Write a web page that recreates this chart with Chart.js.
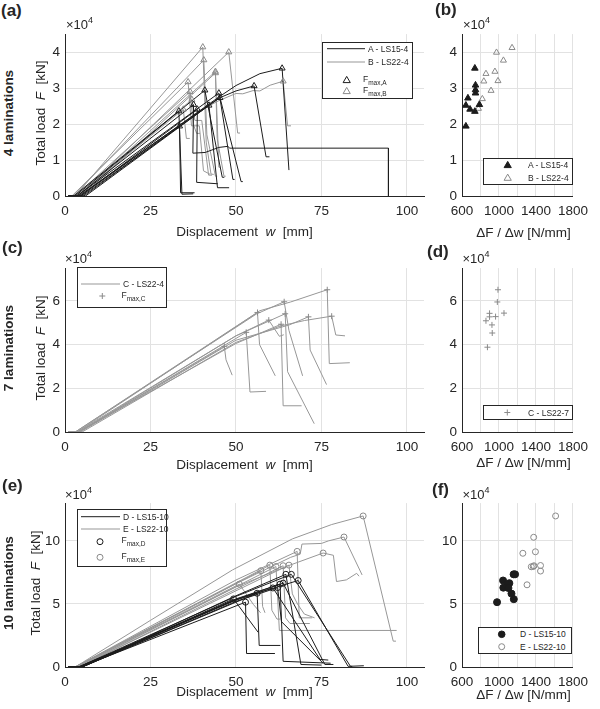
<!DOCTYPE html>
<html><head><meta charset="utf-8">
<script src="https://cdn.jsdelivr.net/npm/chart.js@4.4.1/dist/chart.umd.min.js"></script>
<style>
body{margin:0;background:#fff;}
#wrap{position:relative;width:600px;height:709px;overflow:hidden;background:#fff;font-family:"Liberation Sans",Arial,Helvetica,sans-serif;color:#262626;}
#wrap canvas{position:absolute;z-index:0;}
.t{position:absolute;white-space:nowrap;z-index:3;line-height:1;}
.ttl{font-size:13.5px;transform:translate(-50%,-50%);}
.rot{transform:translate(-50%,-50%) rotate(-90deg);}
.lam{font-size:13.5px;font-weight:bold;}
.pl{font-size:17px;font-weight:bold;transform:translateY(-50%);}
.exp{font-size:13px;transform:translateY(-50%);}
.exp sup{font-size:9px;vertical-align:6px;}
.lg{font-size:8.5px;transform:translateY(-50%);}
.lg sub{font-size:6.5px;vertical-align:-3px;}
svg.leg{position:absolute;z-index:2;overflow:visible;}
</style></head>
<body><div id="wrap"></div>
<script>
// ---------- DATA ----------
// (a) 4 laminations: displacement w [mm] and total load F [kN], one row per test
const a_w_A = [
 [1.5,4.5,45,50,57,63.5,65.5],
 [1,4,45,50,55.3,58.8,59.8],
 [1,3.5,45,51.5,52],
 [1,5,45.3,49.1,49.6],
 [1,3,40.9,46,46.6],
 [1.5,6,42.1,44.6,48],
 [1,3.5,37.6,37.4,41,45,47.6,48.2,94.6,94.6],
 [1,4.5,38.7,38.5,44.7],
 [1,2.5,33.3,34.2,37.5],
 [1,5.5,33.5,33.8,37.9]
];
const a_F_A = [
 [0,0,27500,30700,34000,35500,7200],
 [0,0,27200,29200,30600,10900,10900],
 [0,0,28600,4000,4000],
 [0,0,27300,4600,4600],
 [0,0,29400,5200,5200],
 [0,0,25200,2300,2300],
 [0,0,25400,11900,12100,13500,13800,13300,13300,0],
 [0,0,24100,3800,3400],
 [0,0,23600,500,600],
 [0,0,19400,900,900]
];
const a_w_B = [
 [1,3,40.3,41.3,42.7,43.5],
 [1,4,47.9,50.5,51.2],
 [1,2.5,40.6,41.5,44,44.5],
 [1,4,44,44.5,46.5,47],
 [1,5,44,45,45.5],
 [1,2,36,37,39.3,40.5,42.5],
 [1,4,40,45,50,52,55,57,60,63.8,65.1,66.1],
 [1,3,36.6,37.5,38.5,39.5],
 [1,4,37.1,38,40,42,43],
 [1,3.5,34.6,35.5,36.5]
];
const a_F_B = [
 [0,0,41400,15000,6100,6000],
 [0,0,40000,17500,17500],
 [0,0,37800,17000,5500,5500],
 [0,0,34600,16000,5500,5500],
 [0,0,34200,8000,8000],
 [0,0,31700,19500,19500,7000,6000],
 [0,0,24000,26500,28500,28400,29300,29200,30800,31900,19500,19500],
 [0,0,29000,20000,17400,17400],
 [0,0,26800,21000,21000,5800,5800],
 [0,0,24100,16000,16000]
];
// (b) stiffness dF/dw [N/mm] vs Fmax [kN]
const b_k_A = [739,746,746,746,664,788,642,687,739,642];
const b_F_A = [35500,30800,29500,28600,27200,25400,25200,24100,23500,19400];
const b_k_B = [1141,973,1048,956,859,836,989,914,820,778];
const b_F_B = [41200,39900,37700,34600,34000,31900,32000,29300,27000,24300];
// (c) 7 laminations
const c_w_C = [
 [1,3,57,66,76.7,77.3,83.3],
 [1,3,56,64.1,65.5,69.5],
 [1,3.5,56.3,56.9,61.5],
 [1,4,50,64.4,65.1,72.9],
 [1,4.5,50,60,65.6,71.2,71.7,76.5],
 [1,5,50,63,70,78,79.2,81.9],
 [1,3.5,50,59.6,62.7,64],
 [1,4,50,63.2,63.8,69.2],
 [1,4,53,54.1,58.8],
 [1,4,46.6,47.1,48.9]
];
const c_F_C = [
 [0,0,55500,59500,65100,31300,31700],
 [0,0,54000,59600,46500,25700],
 [0,0,54700,40000,25700],
 [0,0,44000,54100,27600,3800],
 [0,0,42000,46500,49000,52700,37500,21700],
 [0,0,41000,48500,51000,53000,44400,44000],
 [0,0,44000,51200,43800,44500],
 [0,0,40500,49300,12000,12000],
 [0,0,45600,18300,18600],
 [0,0,39200,33000,26000]
];
// (d)
const d_k_C = [989,982,1054,898,898,963,859,924,927,875];
const d_F_C = [65100,59500,54400,54300,52700,52800,50900,49000,45300,38800];
// (e) 10 laminations
const e_w_D = [
 [1,5,49.3,56.5],
 [1,4.5,52.8,53.1,61.4],
 [1,5,56.2,56.8,63],
 [1,4,50,60.8,74.6,77],
 [1,5,50,62.2,63.3,75.5],
 [1,4,50,62.9,63.8,77.7],
 [1,4.5,50,63.8,76,78.5],
 [1,5,50,64.6,69,75],
 [1,4,50,66.2,83.5,84],
 [1,5,50,68.2,82.8,87.4]
];
const e_F_D = [
 [0,0,54000,27500],
 [0,0,51400,10700,10700],
 [0,0,58500,17100,17100],
 [0,0,53000,62700,6000,5500],
 [0,0,52000,63000,36000,3000],
 [0,0,53500,65700,4500,3000],
 [0,0,54000,66500,2000,2000],
 [0,0,56500,73500,2000,1500],
 [0,0,56000,73500,500,500],
 [0,0,53500,68600,500,1000]
];
const e_w_E = [
 [1,3,25,49,66.5,78,87.2,96,96.8],
 [1,3,50,66,68.8,69.3,75,77,81.6,86.9],
 [1,3.5,50,65,75.5,78.5,79.4,82.3,85.3,86],
 [1,3,50,67.9,68.5,72.3],
 [1,3,59.9,60.5,62,63],
 [1,3.5,61.7,62.7,97],
 [1,4,63.8,64.5,65.8,71.6],
 [1,4,65.5,66.5,68,70,73],
 [1,3,57.3,57.8,58.5],
 [1,3,51,55.1,57.2]
];
const e_F_E = [
 [0,0,37000,77000,101600,113000,119800,20500,20500],
 [0,0,66000,87000,89500,97500,98000,100000,103100,73000],
 [0,0,63500,80000,90400,88600,67800,69100,74300,72000],
 [0,0,69000,91700,39000,39000],
 [0,0,80800,45000,38000,38000],
 [0,0,79700,29000,29000],
 [0,0,80300,39000,34500,34500],
 [0,0,80800,58000,50000,42000,39000],
 [0,0,76400,48000,43000],
 [0,0,65700,49600,43000]
];
// (f)
const f_k_D = [1158,1174,1044,1112,1089,1047,1102,1135,1160,979];
const f_F_D = [73500,73500,68600,66500,65700,62900,62600,58200,53800,51400];
const f_k_E = [1612,1375,1394,1258,1449,1378,1349,1370,1449,1303];
const f_F_E = [119800,102900,91400,90200,80500,80300,79500,79700,76100,65200];
// ticks
const wTicks = [0,25,50,75,100];
const kTicks = [600,800,1000,1200,1400,1600,1800];
const kTickLabels = [600,1000,1400,1800];
const yTicks4 = [0,10000,20000,30000,40000];
const yTicks7 = [0,20000,40000,60000];
const yTicks10 = [0,50000,100000];

// ---------- STYLE / LAYOUT ----------
const BLACK='#1c1c1c', GRAY='#979797', GRAYM='#8a8a8a', AX='#262626', GRID='#e2e2e2';
const FONT={family:'"Liberation Sans", Arial, sans-serif', size:13.5};
const wrap=document.getElementById('wrap');
const YW=46, XH=30, PT=8, PR=10;

function curveSets(ws,Fs,color,width){
  return ws.map((w,i)=>({data:w.map((x,j)=>({x:x,y:Fs[i][j]})),showLine:true,borderColor:color,borderWidth:width,
    pointRadius:0,pointHoverRadius:0,fill:false,tension:0}));
}
function peaks(ws,Fs){
  return ws.map((w,i)=>{const F=Fs[i];let k=0;F.forEach((v,j)=>{if(v>F[k])k=j;});return {x:w[k],y:F[k]};});
}
function pairs(xs,ys){return xs.map((x,i)=>({x:x,y:ys[i]}));}
function markerSet(pts,style,r,stroke,fill){
  return {data:pts,showLine:false,pointStyle:style,pointRadius:r,pointHoverRadius:r,borderColor:stroke,backgroundColor:fill,borderWidth:1};
}
function makeChart(rect,xcfg,ycfg,datasets){
  const c=document.createElement('canvas');
  const W=rect.R-rect.L+YW+PR, H=rect.B-rect.T+PT+XH;
  c.width=W;c.height=H;
  c.style.left=(rect.L-YW)+'px';c.style.top=(rect.T-PT)+'px';
  c.style.width=W+'px';c.style.height=H+'px';
  wrap.appendChild(c);
  new Chart(c,{type:'scatter',data:{datasets:datasets},options:{
    responsive:false,animation:false,devicePixelRatio:1,
    layout:{padding:{top:PT,right:PR,left:0,bottom:0}},
    plugins:{legend:{display:false},tooltip:{enabled:false}},
    scales:{
      x:{type:'linear',min:xcfg.min,max:xcfg.max,afterFit:s=>{s.height=XH;},
         afterBuildTicks:s=>{s.ticks=xcfg.ticks.map(v=>({value:v}));},
         ticks:{padding:7,font:FONT,color:AX,maxRotation:0,autoSkip:false,callback:v=>xcfg.labels.includes(v)?String(v):''},
         grid:{color:GRID,drawTicks:false},border:{color:AX,width:1}},
      y:{type:'linear',min:0,max:ycfg.max,afterFit:s=>{s.width=YW;},
         afterBuildTicks:s=>{s.ticks=ycfg.ticks.map(v=>({value:v}));},
         ticks:{padding:5,font:FONT,color:AX,autoSkip:false,callback:v=>String(v/1e4)},
         grid:{color:GRID,drawTicks:false},border:{color:AX,width:1}}
    }}});
}
const xW={min:0,max:105,ticks:wTicks,labels:wTicks};
const xK={min:600,max:1800,ticks:kTicks,labels:kTickLabels};
const TRANSP='rgba(0,0,0,0)';

// (a)
makeChart({L:65,R:424,T:29,B:196},xW,{max:45000,ticks:yTicks4},[
  markerSet(peaks(a_w_A,a_F_A),'triangle',3.5,BLACK,TRANSP),
  markerSet(peaks(a_w_B,a_F_B),'triangle',3.5,GRAYM,TRANSP),
  ...curveSets(a_w_A,a_F_A,BLACK,1),
  ...curveSets(a_w_B,a_F_B,GRAY,1)
]);
// (b)
makeChart({L:462,R:585,T:29,B:196},xK,{max:45000,ticks:yTicks4},[
  markerSet(pairs(b_k_A,b_F_A),'triangle',3.8,BLACK,BLACK),
  markerSet(pairs(b_k_B,b_F_B),'triangle',3.5,GRAYM,TRANSP)
]);
// (c)
makeChart({L:65,R:424,T:263,B:432},xW,{max:75000,ticks:yTicks7},[
  markerSet(peaks(c_w_C,c_F_C),'cross',3,GRAYM,GRAYM),
  ...curveSets(c_w_C,c_F_C,GRAY,1)
]);
// (d)
makeChart({L:462,R:585,T:263,B:432},xK,{max:75000,ticks:yTicks7},[
  markerSet(pairs(d_k_C,d_F_C),'cross',3,GRAYM,GRAYM)
]);
// (e)
makeChart({L:65,R:424,T:498,B:667},xW,{max:130000,ticks:yTicks10},[
  markerSet(peaks(e_w_D,e_F_D),'circle',3,BLACK,TRANSP),
  markerSet(peaks(e_w_E,e_F_E),'circle',3,GRAYM,TRANSP),
  ...curveSets(e_w_D,e_F_D,BLACK,1),
  ...curveSets(e_w_E,e_F_E,GRAY,1)
]);
// (f)
makeChart({L:462,R:585,T:498,B:667},xK,{max:130000,ticks:yTicks10},[
  markerSet(pairs(f_k_D,f_F_D),'circle',3.5,BLACK,BLACK),
  markerSet(pairs(f_k_E,f_F_E),'circle',3,GRAYM,TRANSP)
]);

// ---------- TEXT OVERLAYS ----------
function txt(html,cls,x,y){const d=document.createElement('div');d.className='t '+cls;d.innerHTML=html;d.style.left=x+'px';d.style.top=y+'px';wrap.appendChild(d);return d;}
const panels=[['(a)',1,9.5],['(b)',435,8.5],['(c)',2,246.5],['(d)',427,250.5],['(e)',2,485],['(f)',432,488.5]];
panels.forEach(p=>txt(p[0],'pl',p[1],p[2]));
[[66,23],[463,23],[65,256.5],[462.5,256.5],[65,493],[462.5,492.5]].forEach(p=>txt('&times;10<sup>4</sup>','exp',p[0],p[1]));
[232,465,692].forEach(y=>txt('Displacement&nbsp; <i>w</i> &nbsp;[mm]','ttl',244.5,y));
[233,463,695].forEach(y=>txt('&Delta;F / &Delta;w [N/mm]','ttl',523.5,y));
[[41,112.5],[41,347.5],[36,582.5]].forEach(p=>txt('Total load&nbsp; <i>F</i> &nbsp;[kN]','ttl rot',p[0],p[1]));
[['4 laminations',112.5],['7 laminations',347.5],['10 laminations',582.5]].forEach(p=>txt(p[0],'lam rot',9,p[1]));

// legends
const NS='http://www.w3.org/2000/svg';
function legend(box,items){
  const s=document.createElementNS(NS,'svg');s.setAttribute('class','leg');
  s.setAttribute('width',box.w);s.setAttribute('height',box.h);
  s.style.left=box.l+'px';s.style.top=box.t+'px';
  const add=(tag,attrs)=>{const e=document.createElementNS(NS,tag);for(const k in attrs)e.setAttribute(k,attrs[k]);s.appendChild(e);};
  add('rect',{x:0.5,y:0.5,width:box.w-1,height:box.h-1,fill:'#fff',stroke:AX,'stroke-width':1});
  items.forEach(it=>{
    const x=it.x-box.l, y=it.y-box.t;
    if(it.k==='line') add('line',{x1:it.x1-box.l,x2:it.x2-box.l,y1:y,y2:y,stroke:it.c,'stroke-width':1});
    if(it.k==='tri') add('polygon',{points:`${x},${y-3.6} ${x+3.6},${y+2.6} ${x-3.6},${y+2.6}`,fill:it.f,stroke:it.c,'stroke-width':1});
    if(it.k==='cir') add('circle',{cx:x,cy:y,r:it.r||3,fill:it.f,stroke:it.c,'stroke-width':1});
    if(it.k==='plus'){add('line',{x1:x-3,x2:x+3,y1:y,y2:y,stroke:it.c});add('line',{x1:x,x2:x,y1:y-3,y2:y+3,stroke:it.c});}
  });
  wrap.appendChild(s);
  items.forEach(it=>txt(it.text,'lg',it.tx,it.ty));
}
legend({l:322,t:42,w:91,h:57},[
  {k:'line',x1:327,x2:365,y:48.7,c:BLACK,text:'A - LS15-4',tx:368,ty:48.7},
  {k:'line',x1:327,x2:365,y:62,c:GRAY,text:'B - LS22-4',tx:368,ty:62},
  {k:'tri',x:346.7,y:80,c:BLACK,f:'none',text:'F<sub>max,A</sub>',tx:363,ty:81},
  {k:'tri',x:346.7,y:91,c:GRAYM,f:'none',text:'F<sub>max,B</sub>',tx:363,ty:92}
]);
legend({l:483,t:158,w:90,h:27},[
  {k:'tri',x:507.7,y:165,c:BLACK,f:BLACK,text:'A - LS15-4',tx:528,ty:165},
  {k:'tri',x:507.7,y:177.7,c:GRAYM,f:'none',text:'B - LS22-4',tx:528,ty:177.7}
]);
legend({l:77,t:267,w:90,h:41},[
  {k:'line',x1:81,x2:120,y:284,c:GRAY,text:'C - LS22-4',tx:123,ty:284},
  {k:'plus',x:102.3,y:296,c:GRAYM,text:'F<sub>max,C</sub>',tx:121.5,ty:297}
]);
legend({l:483,t:405,w:90,h:15},[
  {k:'plus',x:507.3,y:412.5,c:GRAYM,text:'C - LS22-7',tx:528,ty:412.5}
]);
legend({l:77,t:509,w:90,h:58},[
  {k:'line',x1:81,x2:120,y:516.7,c:BLACK,text:'D - LS15-10',tx:123,ty:516.7},
  {k:'line',x1:81,x2:120,y:529,c:GRAY,text:'E - LS22-10',tx:123,ty:529},
  {k:'cir',x:100,y:541.7,c:BLACK,f:'none',text:'F<sub>max,D</sub>',tx:121.5,ty:542},
  {k:'cir',x:100,y:557.3,c:GRAYM,f:'none',text:'F<sub>max,E</sub>',tx:121.5,ty:558}
]);
legend({l:478,t:627,w:94,h:27},[
  {k:'cir',x:501.7,y:634.3,c:BLACK,f:BLACK,r:3.3,text:'D - LS15-10',tx:520,ty:634.3},
  {k:'cir',x:501.7,y:646.7,c:GRAYM,f:'none',text:'E - LS22-10',tx:520,ty:646.7}
]);
</script>
</body></html>
